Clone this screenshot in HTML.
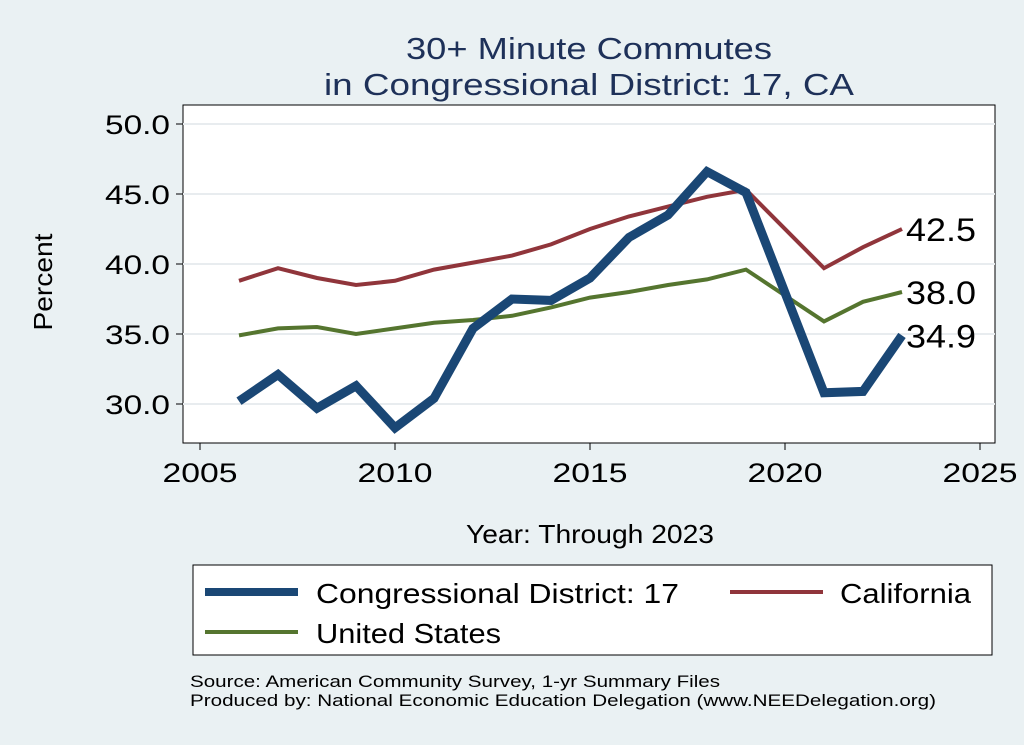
<!DOCTYPE html>
<html><head><meta charset="utf-8">
<style>
body{margin:0;background:#eaf1f3;}
svg{display:block;font-family:"Liberation Sans",Arial,sans-serif;}
</style></head>
<body>
<svg id="chart" width="1024" height="745" viewBox="0 0 1024 745" xml:space="preserve">
<rect x="0" y="0" width="1024" height="745" fill="#eaf1f3"/>
<text x="589" y="59" font-size="31" fill="#1e3159" text-anchor="middle" textLength="366" lengthAdjust="spacingAndGlyphs">30+ Minute Commutes</text>
<text x="589" y="95" font-size="31" fill="#1e3159" text-anchor="middle" textLength="530" lengthAdjust="spacingAndGlyphs">in Congressional District:  17, CA</text>
<rect x="183" y="105" width="812" height="338" fill="#fff" stroke="#000" stroke-width="1"/>
<g id="grid"></g>
<g id="axes"></g>
<g id="series"></g>
<text x="52" y="282" font-size="26" text-anchor="middle" transform="rotate(-90 52 282)" textLength="97" lengthAdjust="spacingAndGlyphs">Percent</text>
<text x="590" y="543" font-size="26" text-anchor="middle" textLength="248" lengthAdjust="spacingAndGlyphs">Year: Through 2023</text>
<g>
<rect x="193" y="565" width="799" height="90" fill="#fff" stroke="#000"/>
<line x1="205" y1="592" x2="298" y2="592" stroke="#1a4775" stroke-width="8"/>
<text x="316" y="603" font-size="28" textLength="363" lengthAdjust="spacingAndGlyphs">Congressional District:  17</text>
<line x1="730" y1="592" x2="823" y2="592" stroke="#90353b" stroke-width="4"/>
<text x="840" y="603" font-size="28" textLength="131" lengthAdjust="spacingAndGlyphs">California</text>
<line x1="205" y1="632" x2="298" y2="632" stroke="#55752f" stroke-width="4"/>
<text x="316" y="643" font-size="28" textLength="185" lengthAdjust="spacingAndGlyphs">United States</text>
</g>
<text x="190" y="687" font-size="17" textLength="530" lengthAdjust="spacingAndGlyphs">Source: American Community Survey, 1-yr Summary Files</text>
<text x="190" y="706" font-size="17" textLength="746" lengthAdjust="spacingAndGlyphs">Produced by: National Economic Education Delegation (www.NEEDelegation.org)</text>
</svg>
<script>
const years=[2006,2007,2008,2009,2010,2011,2012,2013,2014,2015,2016,2017,2018,2019,2021,2022,2023];
const cd17=[30.2,32.1,29.7,31.3,28.3,30.4,35.4,37.5,37.4,39.0,41.9,43.5,46.6,45.1,30.8,30.9,34.9];
const california=[38.8,39.7,39.0,38.5,38.8,39.6,40.1,40.6,41.4,42.5,43.4,44.1,44.8,45.3,39.7,41.2,42.5];
const unitedStates=[34.9,35.4,35.5,35.0,35.4,35.8,36.0,36.3,36.9,37.6,38.0,38.5,38.9,39.6,35.9,37.3,38.0];
const yTicks=[30,35,40,45,50];
const xTicks=[2005,2010,2015,2020,2025];
const NS="http://www.w3.org/2000/svg";
function xs(v){return 200+(v-2005)*39;}
function ys(v){return 404-(v-30)*14;}
function mk(tag,attrs,parent){const e=document.createElementNS(NS,tag);for(const k in attrs)e.setAttribute(k,attrs[k]);document.getElementById(parent).appendChild(e);return e;}
yTicks.forEach(t=>{
 const g=mk('line',{x1:183,x2:995,y1:ys(t),y2:ys(t),stroke:'#e8ecef','stroke-width':2},'grid');
 
 
 const tk=mk('line',{x1:176,x2:183,y1:ys(t),y2:ys(t),stroke:'#000'},'axes');
 
 
 const l=mk('text',{x:170,y:ys(t)+10,'font-size':27,'text-anchor':'end',textLength:65,lengthAdjust:'spacingAndGlyphs'},'axes');
 l.textContent=t.toFixed(1);
 
 
});
xTicks.forEach(t=>{
 const tk=mk('line',{x1:xs(t),x2:xs(t),y1:443,y2:450,stroke:'#000'},'axes');
 
 
 const l=mk('text',{x:xs(t),y:482,'font-size':27,'text-anchor':'middle',textLength:75,lengthAdjust:'spacingAndGlyphs'},'axes');
 l.textContent=t;
 
 
});
function series(vals,color,w,name){
 const p=mk('polyline',{points:years.map((y,i)=>xs(y)+','+ys(vals[i])).join(' '),fill:'none',stroke:color,'stroke-width':w,'stroke-linejoin':'miter'},'series');
 
 
 const last=vals[vals.length-1];
 const l=mk('text',{x:xs(years[years.length-1])+4,y:ys(last)+12,'font-size':32,textLength:70,lengthAdjust:'spacingAndGlyphs'},'series');
 l.textContent=last.toFixed(1);
 
 
}
series(california,'#90353b',4,'line-california');
series(unitedStates,'#55752f',4,'line-united-states');
series(cd17,'#1a4775',9,'line-cd17');
</script>
</body></html>
